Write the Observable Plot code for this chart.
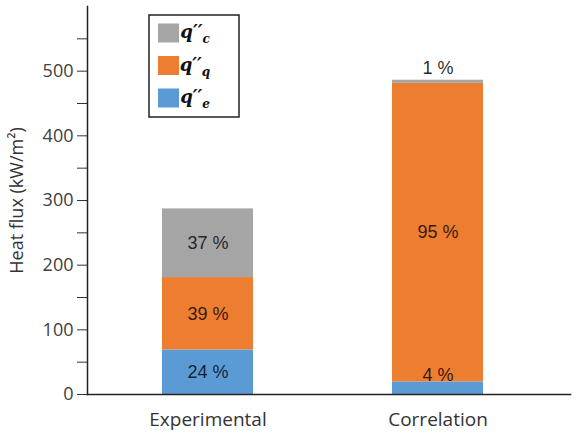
<!DOCTYPE html>
<html>
<head>
<meta charset="utf-8">
<script src="https://cdn.jsdelivr.net/npm/d3@7"></script>
<script src="https://cdn.jsdelivr.net/npm/@observablehq/plot@0.6"></script>
<style>
  html, body { margin: 0; padding: 0; background: #fff; }
</style>
</head>
<body>
<div id="chart"></div>
<script>
// Heat flux partition: evaporation (e), quenching (q), convection (c)
const groups = ["Experimental", "Correlation"];
const totals = [287, 486];                 // total heat flux, kW/m²
const components = ["e", "q", "c"];        // stacking order, bottom to top
const componentColors = ["#5b9bd5", "#ed7d31", "#a5a5a5"];
const pctExperimental = [24, 39, 37];      // % share of e, q, c
const pctCorrelation = [4, 95, 1];
const majorTicks = [0, 100, 200, 300, 400, 500];
const minorTicks = [50, 150, 250, 350, 450, 550];

// Build stacked rows; each segment's height is its share of the total
const shares = [pctExperimental, pctCorrelation];
const rows = [];
groups.forEach((g, gi) => {
  let base = 0;
  components.forEach((c, ci) => {
    const pct = shares[gi][ci];
    const v = totals[gi] * pct / 100;
    rows.push({group: g, comp: c, pct, y1: base, y2: base + v, top: ci === components.length - 1});
    base += v;
  });
});
const bigLabels = rows.filter(d => d.pct >= 10);
const smallInner = rows.filter(d => d.pct < 10 && !d.top);
const smallTop = rows.filter(d => d.pct < 10 && d.top);

const font = "'Open Sans', sans-serif";
const pctFont = "'Liberation Sans', Arial, sans-serif";
const plot = Plot.plot({
  width: 583,
  height: 434,
  marginLeft: 87,
  marginRight: 13,
  marginTop: 6,
  marginBottom: 40,
  style: {fontFamily: font, background: "#fff"},
  x: {domain: groups, paddingInner: 0.605, paddingOuter: 0.35, align: 0.464},
  y: {domain: [0, 600]},
  color: {domain: components, range: componentColors},
  marks: [
    Plot.rectY(rows, {x: "group", y1: "y1", y2: "y2", fill: "comp"}),
    Plot.text(bigLabels, {
      x: "group", y: d => (d.y1 + d.y2) / 2, text: d => `${d.pct} %`,
      fontFamily: pctFont, fontSize: 18, fill: "#000", fillOpacity: 0.8
    }),
    Plot.text(smallInner, {
      x: "group", y: "y2", text: d => `${d.pct} %`, lineAnchor: "bottom", dy: -1,
      fontFamily: pctFont, fontSize: 18, fill: "#000", fillOpacity: 0.8
    }),
    Plot.text(smallTop, {
      x: "group", y: "y2", text: d => `${d.pct} %`, lineAnchor: "bottom", dy: -6,
      fontFamily: pctFont, fontSize: 18, fill: "#000", fillOpacity: 0.85
    }),
    Plot.axisY({ticks: majorTicks, tickSize: 10, tickPadding: 4, fontSize: 18, color: "#404040", stroke: "#333", label: null}),
    Plot.axisY({ticks: minorTicks, tickSize: 10, tickFormat: () => "", stroke: "#333", label: null}),
    Plot.axisX({tickSize: 0, tickPadding: 18, fontSize: 19, color: "#333", label: null}),
    Plot.text(["Heat flux (kW/m²)"], {
      frameAnchor: "left", textAnchor: "middle", rotate: -90, dx: -70,
      fontSize: 18, fill: "#333"
    }),
    Plot.frame({anchor: "left", stroke: "#222", strokeWidth: 1.5}),
    Plot.frame({anchor: "bottom", stroke: "#222", strokeWidth: 1.5})
  ]
});

document.getElementById("chart").appendChild(plot);

// Legend box drawn inside the plot area
const color = plot.scale("color");
const svg = d3.select(plot);
const lg = svg.append("g").attr("class", "legend");
lg.append("rect")
  .attr("x", 149).attr("y", 15).attr("width", 90).attr("height", 102)
  .attr("fill", "#fff").attr("stroke", "#222").attr("stroke-width", 1.5);
const legendOrder = components.slice().reverse();  // top row: c, then q, then e
legendOrder.forEach((c, i) => {
  const cy = 33 + i * 32.5;
  lg.append("rect")
    .attr("x", 158).attr("y", cy - 9.5).attr("width", 21).attr("height", 19)
    .attr("fill", color.apply(c));
  const t = lg.append("text")
    .attr("x", 195).attr("y", cy + 5)
    .attr("font-family", "'DejaVu Serif', 'Liberation Serif', serif")
    .attr("font-style", "italic").attr("font-weight", "bold")
    .attr("font-size", 18).attr("fill", "#111");
  t.append("tspan").text("q\u2032\u2032");
  t.append("tspan").attr("dy", 5).attr("font-size", 12).text(c);
});
</script>
</body>
</html>
